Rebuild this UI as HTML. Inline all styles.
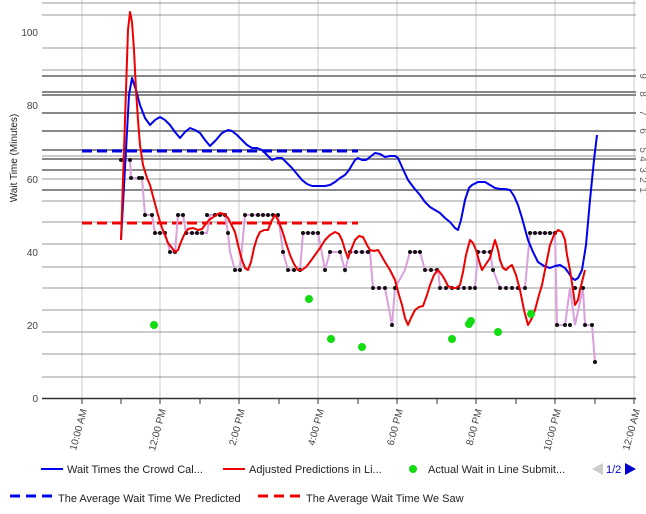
<!DOCTYPE html>
<html><head><meta charset="utf-8"><style>
body{margin:0;background:#fff;}
svg{display:block;font-family:"Liberation Sans",Arial,sans-serif;}
</style></head><body>
<svg width="646" height="514" viewBox="0 0 646 514" xmlns="http://www.w3.org/2000/svg">
<rect width="646" height="514" fill="#fff"/>
<!-- vertical grid -->
<g stroke="#ccc" stroke-width="1">
<line x1="82" y1="0" x2="82" y2="398"/><line x1="160" y1="0" x2="160" y2="398"/>
<line x1="239" y1="0" x2="239" y2="398"/><line x1="318" y1="0" x2="318" y2="398"/>
<line x1="397" y1="0" x2="397" y2="398"/><line x1="476" y1="0" x2="476" y2="398"/>
<line x1="555" y1="0" x2="555" y2="398"/><line x1="634" y1="0" x2="634" y2="398"/>
</g>
<!-- horizontal grid -->
<g stroke="#999" stroke-width="1">
<line x1="42" y1="3" x2="636" y2="3"/><line x1="42" y1="15" x2="636" y2="15"/>
<line x1="42" y1="48" x2="636" y2="48"/><line x1="42" y1="70" x2="636" y2="70"/>
<line x1="42" y1="156" x2="636" y2="156"/><line x1="42" y1="179" x2="636" y2="179"/>
<line x1="42" y1="201" x2="636" y2="201"/><line x1="42" y1="222" x2="636" y2="222"/>
<line x1="42" y1="244" x2="636" y2="244"/><line x1="42" y1="267" x2="636" y2="267"/>
<line x1="42" y1="288" x2="636" y2="288"/><line x1="42" y1="310" x2="636" y2="310"/>
<line x1="42" y1="332" x2="636" y2="332"/><line x1="42" y1="354" x2="636" y2="354"/>
<line x1="42" y1="377" x2="636" y2="377"/>
</g>
<g stroke="#888" stroke-width="2">
<line x1="42" y1="76" x2="636" y2="76"/><line x1="42" y1="92" x2="636" y2="92"/>
<line x1="42" y1="95" x2="636" y2="95"/><line x1="42" y1="113" x2="636" y2="113"/>
<line x1="42" y1="131" x2="636" y2="131"/><line x1="42" y1="150" x2="636" y2="150"/>
<line x1="42" y1="159" x2="636" y2="159"/><line x1="42" y1="170" x2="636" y2="170"/>
<line x1="42" y1="190" x2="636" y2="190"/>
</g>
<line x1="42" y1="398.5" x2="636" y2="398.5" stroke="#333" stroke-width="1.5"/>
<g stroke="#333" stroke-width="1">
<line x1="82" y1="398" x2="82" y2="404"/><line x1="121" y1="398" x2="121" y2="404"/><line x1="160" y1="398" x2="160" y2="404"/><line x1="200" y1="398" x2="200" y2="404"/><line x1="239" y1="398" x2="239" y2="404"/><line x1="279" y1="398" x2="279" y2="404"/><line x1="318" y1="398" x2="318" y2="404"/><line x1="358" y1="398" x2="358" y2="404"/><line x1="397" y1="398" x2="397" y2="404"/><line x1="437" y1="398" x2="437" y2="404"/><line x1="476" y1="398" x2="476" y2="404"/><line x1="516" y1="398" x2="516" y2="404"/><line x1="555" y1="398" x2="555" y2="404"/><line x1="595" y1="398" x2="595" y2="404"/><line x1="634" y1="398" x2="634" y2="404"/>
</g>
<!-- y labels -->
<g font-size="10" fill="#444" text-anchor="end">
<text x="38" y="36">100</text><text x="38" y="109">80</text><text x="38" y="183">60</text>
<text x="38" y="256">40</text><text x="38" y="329">20</text><text x="38" y="402">0</text>
</g>
<text transform="translate(17,158) rotate(-90)" font-size="10" fill="#222" text-anchor="middle">Wait Time (Minutes)</text>
<g font-size="10" fill="#666">
<text transform="translate(640,190) rotate(90)" text-anchor="middle">1</text>
<text transform="translate(640,180) rotate(90)" text-anchor="middle">2</text>
<text transform="translate(640,170) rotate(90)" text-anchor="middle">3</text>
<text transform="translate(640,159) rotate(90)" text-anchor="middle">4</text>
<text transform="translate(640,150) rotate(90)" text-anchor="middle">5</text>
<text transform="translate(640,131) rotate(90)" text-anchor="middle">6</text>
<text transform="translate(640,113) rotate(90)" text-anchor="middle">7</text>
<text transform="translate(640,94) rotate(90)" text-anchor="middle">8</text>
<text transform="translate(640,76) rotate(90)" text-anchor="middle">9</text>
</g>
<!-- x labels -->
<g font-size="10" fill="#444" text-anchor="end">
<text transform="translate(87,410) rotate(-75)">10:00 AM</text>
<text transform="translate(166,410) rotate(-75)">12:00 PM</text>
<text transform="translate(245,410) rotate(-75)">2:00 PM</text>
<text transform="translate(324,410) rotate(-75)">4:00 PM</text>
<text transform="translate(403,410) rotate(-75)">6:00 PM</text>
<text transform="translate(482,410) rotate(-75)">8:00 PM</text>
<text transform="translate(561,410) rotate(-75)">10:00 PM</text>
<text transform="translate(640,410) rotate(-75)">12:00 AM</text>
</g>
<!-- dashed avg lines -->
<line x1="82" y1="151" x2="358" y2="151" stroke="#0000dd" stroke-width="3" stroke-dasharray="10,5"/>
<line x1="82" y1="223" x2="358" y2="223" stroke="#ee0000" stroke-width="3" stroke-dasharray="10,5"/>
<!-- pink step line -->
<polyline fill="none" stroke="#d9a0dc" stroke-width="2" points="121,160 130,160 131,178 142,178 145,215 152,215 155,233 165,233 170,252 175,252 178,215 183,215 186,233 207,233 210,215 225,215 228,233 230,252 235,270 240,270 245,215 278,215 283,252 288,270 300,270 303,233 318,233 325,270 330,252 340,252 345,270 350,252 370,252 373,288 385,288 392,325 395,288 405,270 410,252 420,252 425,270 438,270 440,288 475,288 478,252 490,252 493,270 500,288 525,288 530,233 555,233 557,325 565,325 570,288 575,325 583,288 585,325 592,325 595,362"/>
<g fill="#111">
<circle cx="121" cy="160" r="2"/><circle cx="130" cy="160" r="2"/><circle cx="131" cy="178" r="2"/><circle cx="139" cy="178" r="2"/><circle cx="142" cy="178" r="2"/><circle cx="145" cy="215" r="2"/><circle cx="152" cy="215" r="2"/><circle cx="155" cy="233" r="2"/><circle cx="160" cy="233" r="2"/><circle cx="165" cy="233" r="2"/><circle cx="170" cy="252" r="2"/><circle cx="175" cy="252" r="2"/><circle cx="178" cy="215" r="2"/><circle cx="183" cy="215" r="2"/><circle cx="186" cy="233" r="2"/><circle cx="192" cy="233" r="2"/><circle cx="197" cy="233" r="2"/><circle cx="202" cy="233" r="2"/><circle cx="207" cy="215" r="2"/><circle cx="215" cy="215" r="2"/><circle cx="220" cy="215" r="2"/><circle cx="225" cy="215" r="2"/><circle cx="228" cy="233" r="2"/><circle cx="235" cy="270" r="2"/><circle cx="240" cy="270" r="2"/><circle cx="245" cy="215" r="2"/><circle cx="252" cy="215" r="2"/><circle cx="258" cy="215" r="2"/><circle cx="263" cy="215" r="2"/><circle cx="268" cy="215" r="2"/><circle cx="273" cy="215" r="2"/><circle cx="278" cy="215" r="2"/><circle cx="283" cy="252" r="2"/><circle cx="288" cy="270" r="2"/><circle cx="294" cy="270" r="2"/><circle cx="300" cy="270" r="2"/><circle cx="303" cy="233" r="2"/><circle cx="308" cy="233" r="2"/><circle cx="313" cy="233" r="2"/><circle cx="318" cy="233" r="2"/><circle cx="325" cy="270" r="2"/><circle cx="330" cy="252" r="2"/><circle cx="340" cy="252" r="2"/><circle cx="345" cy="270" r="2"/><circle cx="350" cy="252" r="2"/><circle cx="356" cy="252" r="2"/><circle cx="362" cy="252" r="2"/><circle cx="368" cy="252" r="2"/><circle cx="373" cy="288" r="2"/><circle cx="379" cy="288" r="2"/><circle cx="385" cy="288" r="2"/><circle cx="392" cy="325" r="2"/><circle cx="395" cy="288" r="2"/><circle cx="410" cy="252" r="2"/><circle cx="415" cy="252" r="2"/><circle cx="420" cy="252" r="2"/><circle cx="425" cy="270" r="2"/><circle cx="431" cy="270" r="2"/><circle cx="437" cy="270" r="2"/><circle cx="440" cy="288" r="2"/><circle cx="446" cy="288" r="2"/><circle cx="452" cy="288" r="2"/><circle cx="458" cy="288" r="2"/><circle cx="464" cy="288" r="2"/><circle cx="470" cy="288" r="2"/><circle cx="475" cy="288" r="2"/><circle cx="478" cy="252" r="2"/><circle cx="484" cy="252" r="2"/><circle cx="490" cy="252" r="2"/><circle cx="493" cy="270" r="2"/><circle cx="500" cy="288" r="2"/><circle cx="506" cy="288" r="2"/><circle cx="512" cy="288" r="2"/><circle cx="518" cy="288" r="2"/><circle cx="525" cy="288" r="2"/><circle cx="530" cy="233" r="2"/><circle cx="535" cy="233" r="2"/><circle cx="540" cy="233" r="2"/><circle cx="545" cy="233" r="2"/><circle cx="550" cy="233" r="2"/><circle cx="555" cy="233" r="2"/><circle cx="557" cy="325" r="2"/><circle cx="565" cy="325" r="2"/><circle cx="570" cy="325" r="2"/><circle cx="575" cy="288" r="2"/><circle cx="583" cy="288" r="2"/><circle cx="585" cy="325" r="2"/><circle cx="592" cy="325" r="2"/><circle cx="595" cy="362" r="2"/>
</g>
<!-- blue line -->
<polyline fill="none" stroke="#0000ee" stroke-width="2" stroke-linejoin="round" points="121,240 126,150 129,95 132,78 136,90 140,105 145,118 150,125 155,120 160,117 165,120 170,125 175,132 180,138 185,132 190,128 195,130 200,133 205,140 210,146 216,140 222,133 228,130 232,131 237,135 242,140 247,145 252,148 257,148 262,150 267,155 272,160 277,158 282,158 287,163 292,168 297,174 302,180 307,184 312,186 320,186 325,186 330,185 335,182 340,178 345,175 349,170 352,165 355,160 358,158 362,160 366,160 370,157 375,153 380,154 385,157 390,156 395,156 398,158 402,167 408,180 414,188 420,195 425,202 430,207 435,210 440,213 445,218 450,222 455,228 458,230 461,220 465,200 469,188 472,185 478,182 485,182 490,185 495,188 500,189 505,189 510,190 514,196 518,205 522,218 528,240 533,252 538,262 544,266 550,268 555,266 560,265 565,268 568,272 572,278 575,280 578,278 582,270 586,245 590,200 594,160 597,135"/>
<!-- red line -->
<polyline fill="none" stroke="#ee0000" stroke-width="2" stroke-linejoin="round" points="121,240 124,150 126,90 128,30 130,12 132,22 134,50 136,90 138,120 140,145 143,165 147,178 150,185 154,200 158,215 162,228 165,235 168,243 172,248 175,252 178,250 181,242 184,235 188,229 193,228 198,230 202,229 205,225 209,220 212,218 216,215 220,213 224,214 228,218 232,226 235,232 238,245 242,260 245,268 248,270 251,262 254,248 257,238 260,232 264,230 268,230 271,222 275,215 278,220 282,230 286,243 290,255 294,264 298,270 302,270 306,267 310,262 315,255 320,248 325,240 330,235 335,232 339,234 342,240 345,250 348,258 351,250 355,240 359,236 363,237 367,245 370,250 374,251 378,250 381,255 385,262 390,270 395,280 399,295 402,305 405,318 408,325 411,318 415,310 419,307 423,306 427,295 430,285 434,275 438,270 442,275 445,280 448,286 452,288 456,288 460,285 463,272 466,255 470,240 473,243 476,250 480,264 482,270 486,264 490,258 493,247 495,240 498,250 500,260 503,268 506,270 509,267 512,265 516,275 520,290 524,310 528,325 532,318 535,310 539,295 542,285 546,265 550,245 554,235 558,230 562,232 565,240 567,255 570,270 573,290 575,305 578,300 580,290 583,278 585,270"/>
<!-- green dots -->
<g fill="#11dd11">
<circle cx="154" cy="325" r="4"/><circle cx="309" cy="299" r="4"/><circle cx="331" cy="339" r="4"/><circle cx="362" cy="347" r="4"/><circle cx="452" cy="339" r="4"/><circle cx="469" cy="324" r="4"/><circle cx="471" cy="321" r="4"/><circle cx="498" cy="332" r="4"/><circle cx="531" cy="314" r="4"/>
</g>
<!-- legend -->
<g font-size="11" fill="#222">
<line x1="41" y1="469" x2="63" y2="469" stroke="#0000ee" stroke-width="2"/>
<text x="67" y="473">Wait Times the Crowd Cal...</text>
<line x1="223" y1="469" x2="245" y2="469" stroke="#ee0000" stroke-width="2"/>
<text x="249" y="473">Adjusted Predictions in Li...</text>
<circle cx="413" cy="469" r="4" fill="#11dd11"/>
<text x="428" y="473">Actual Wait in Line Submit...</text>
<polygon points="603,463 603,475 592,469" fill="#ccc"/>
<text x="606" y="473" fill="#0000cc">1/2</text>
<polygon points="625,463 625,475 636,469" fill="#0000cc"/>
<line x1="10" y1="496" x2="52" y2="496" stroke="#0000ee" stroke-width="3" stroke-dasharray="10,6"/>
<text x="58" y="502">The Average Wait Time We Predicted</text>
<line x1="258" y1="496" x2="300" y2="496" stroke="#ee0000" stroke-width="3" stroke-dasharray="10,6"/>
<text x="306" y="502">The Average Wait Time We Saw</text>
</g>
</svg>
</body></html>
